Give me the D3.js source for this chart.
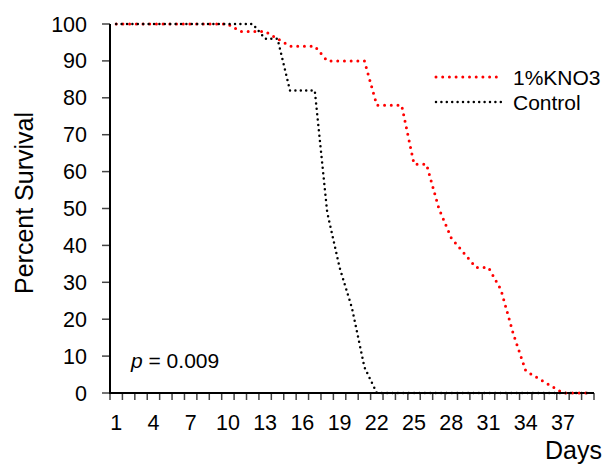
<!DOCTYPE html>
<html>
<head>
<meta charset="utf-8">
<script src="https://cdn.jsdelivr.net/npm/d3@7"></script>
<style>
  body { margin: 0; background: #fff; }
  svg { font-family: "Liberation Sans", Arial, sans-serif; }
</style>
</head>
<body>
<svg width="605" height="467"></svg>
<script>
// days on the category axis
const days = [1, 2, 3, 4, 5, 6, 7, 8, 9, 10, 11, 12, 13, 14, 15, 16, 17, 18, 19, 20,
  21, 22, 23, 24, 25, 26, 27, 28, 29, 30, 31, 32, 33, 34, 35, 36, 37, 38, 39];

// percent survival
const kno3 = [100, 100, 100, 100, 100, 100, 100, 100, 100, 100, 98, 98, 98, 96, 94, 94, 94, 90, 90, 90,
  90, 78, 78, 78, 62, 62, 50, 42, 38, 34, 34, 28, 16, 6, 4, 2, 0, 0, 0];
const control = [100, 100, 100, 100, 100, 100, 100, 100, 100, 100, 100, 100, 96, 96, 82, 82, 82, 49, 34, 23,
  7, 0, 0, 0, 0, 0, 0, 0, 0, 0, 0, 0, 0, 0, 0, 0, 0, 0, 0];

const yTicks = [0, 10, 20, 30, 40, 50, 60, 70, 80, 90, 100];
const xLabels = [1, 4, 7, 10, 13, 16, 19, 22, 25, 28, 31, 34, 37];

const seriesList = [
  { name: '1%KNO3', values: kno3, color: '#ff0000', width: 3, dash: '0 6.7' },
  { name: 'Control', values: control, color: '#000000', width: 2.5, dash: '0 5.4' }
];

const svg = d3.select('svg');
const plotLeft = 110, plotRight = 594, plotTop = 24, plotBottom = 393;

const x = d3.scaleBand().domain(days).range([plotLeft, plotRight]).padding(0);
const y = d3.scaleLinear().domain([0, 100]).range([plotBottom, plotTop]);
const cx = (d) => x(d) + x.bandwidth() / 2;

// y axis
svg.append('g')
  .selectAll('line')
  .data(yTicks)
  .enter()
  .append('line')
  .attr('x1', plotLeft - 8)
  .attr('x2', plotLeft)
  .attr('y1', (d) => y(d))
  .attr('y2', (d) => y(d))
  .attr('stroke', '#444')
  .attr('stroke-width', 1.5);

svg.append('g')
  .selectAll('text')
  .data(yTicks)
  .enter()
  .append('text')
  .attr('x', 87)
  .attr('y', (d) => y(d))
  .attr('dy', '0.35em')
  .attr('text-anchor', 'end')
  .attr('font-size', 21.5)
  .text((d) => d);

// x axis ticks sit between categories
const bounds = days.map((d) => x(d)).concat([plotRight]);
svg.append('g')
  .selectAll('line')
  .data(bounds)
  .enter()
  .append('line')
  .attr('x1', (d) => d)
  .attr('x2', (d) => d)
  .attr('y1', plotBottom)
  .attr('y2', plotBottom + 7)
  .attr('stroke', '#444')
  .attr('stroke-width', 1.5);

svg.append('g')
  .selectAll('text')
  .data(xLabels)
  .enter()
  .append('text')
  .attr('x', (d) => cx(d))
  .attr('y', 430)
  .attr('text-anchor', 'middle')
  .attr('font-size', 21.5)
  .text((d) => d);

svg.append('line')
  .attr('x1', plotLeft).attr('x2', plotLeft)
  .attr('y1', plotTop).attr('y2', plotBottom + 1)
  .attr('stroke', '#000').attr('stroke-width', 2);
svg.append('line')
  .attr('x1', plotLeft - 1).attr('x2', plotRight)
  .attr('y1', plotBottom).attr('y2', plotBottom)
  .attr('stroke', '#000').attr('stroke-width', 2);

// lines
const line = d3.line()
  .x((d) => cx(d.day))
  .y((d) => y(d.v));

seriesList.forEach(function (s) {
  const pts = days.map((d, i) => ({ day: d, v: s.values[i] }));
  svg.append('path')
    .datum(pts)
    .attr('d', line)
    .attr('fill', 'none')
    .attr('stroke', s.color)
    .attr('stroke-width', s.width)
    .attr('stroke-linecap', 'round')
    .attr('stroke-dasharray', s.dash);
});

// legend
const legend = svg.append('g');
seriesList.forEach(function (s, i) {
  const ly = 77 + i * 25;
  legend.append('line')
    .attr('x1', 436).attr('x2', i == 0 ? 500 : 504)
    .attr('y1', ly).attr('y2', ly)
    .attr('stroke', s.color)
    .attr('stroke-width', s.width)
    .attr('stroke-linecap', 'round')
    .attr('stroke-dasharray', s.dash);
  legend.append('text')
    .attr('x', 513)
    .attr('y', ly + 8)
    .attr('font-size', 21)
    .text(s.name);
});

// axis titles
svg.append('text')
  .attr('transform', 'translate(33,203) rotate(-90)')
  .attr('text-anchor', 'middle')
  .attr('font-size', 25)
  .text('Percent Survival');

svg.append('text')
  .attr('x', 602)
  .attr('y', 459)
  .attr('text-anchor', 'end')
  .attr('font-size', 25)
  .text('Days');

// p value note
const note = svg.append('text')
  .attr('x', 131)
  .attr('y', 368)
  .attr('font-size', 21);
note.append('tspan').attr('font-style', 'italic').text('p');
note.append('tspan').text(' = 0.009');
</script>
</body>
</html>
